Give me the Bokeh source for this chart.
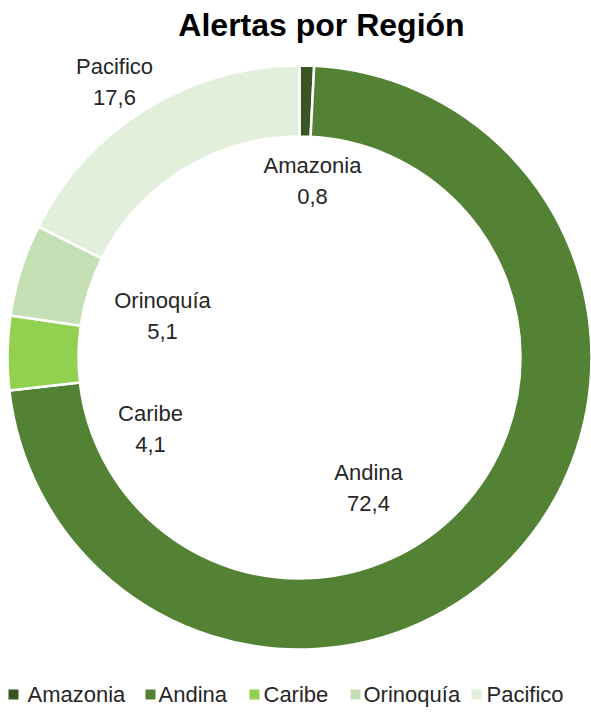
from bokeh.plotting import figure
from bokeh.models import Range1d
from bokeh.core.properties import value
from bokeh.embed import file_html
from bokeh.resources import INLINE
import math

# Share of alerts per region (%)
regions = ["Amazonia", "Andina", "Caribe", "Orinoquía", "Pacifico"]
shares = [0.8, 72.4, 4.1, 5.1, 17.6]
colors = ["#375623", "#548235", "#92D050", "#C5E0B4", "#E2EFDA"]
title_text = "Alertas por Región"

W, H = 591, 713
FONT = "Liberation Sans"

p = figure(width=W, height=H, output_backend="svg", toolbar_location=None,
           x_range=Range1d(0, W), y_range=Range1d(0, H),
           x_axis_type=None, y_axis_type=None, min_border=0)
p.grid.visible = False
p.outline_line_color = None
p.background_fill_color = "white"
p.border_fill_color = "white"


def py(y):
    # page-style top-down y to plot y
    return H - y


# donut, clockwise from 12 o'clock
cx, cy = 299, py(357)
r_out, r_in = 292, 221
total = sum(shares)
starts, ends = [], []
acc = 0.0
for s in shares:
    a0 = math.pi / 2 - 2 * math.pi * acc / total
    acc += s
    a1 = math.pi / 2 - 2 * math.pi * acc / total
    starts.append(a0)
    ends.append(a1)

p.annular_wedge(x=cx, y=cy, inner_radius=r_in, outer_radius=r_out,
                start_angle=starts, end_angle=ends, direction="clock",
                fill_color=colors, line_color="white", line_width=2.5)

# title
p.text(x=[321], y=[py(24)], text=[title_text], text_font=value(FONT),
       text_font_size="32px", text_font_style="bold", text_color="#000000",
       text_align="center", text_baseline="middle")

# data labels inside the hole: name on first line, value below
label_xy = [(312, 165), (368, 472), (150, 413), (162, 300), (114, 66)]
line_gap = 31
vals = [f"{v:.1f}".replace(".", ",") for v in shares]
lx = [xy[0] for xy in label_xy]
p.text(x=lx, y=[py(xy[1]) for xy in label_xy], text=regions,
       text_font=value(FONT), text_font_size="22px", text_color="#262626",
       text_align="center", text_baseline="middle")
p.text(x=lx, y=[py(xy[1] + line_gap) for xy in label_xy], text=vals,
       text_font=value(FONT), text_font_size="22px", text_color="#262626",
       text_align="center", text_baseline="middle")

# legend row at the bottom
sq_x = [13, 150, 254, 355, 476]
tx_x = [27, 158, 263, 363, 486]
leg_y = py(694)
p.scatter(x=sq_x, y=[leg_y] * 5, marker="square", size=10,
          fill_color=colors, line_color=None)
p.text(x=tx_x, y=[leg_y] * 5, text=regions, text_font=value(FONT),
       text_font_size="22px", text_color="#262626",
       text_align="left", text_baseline="middle")

open("out.html", "w").write(file_html(p, INLINE))
